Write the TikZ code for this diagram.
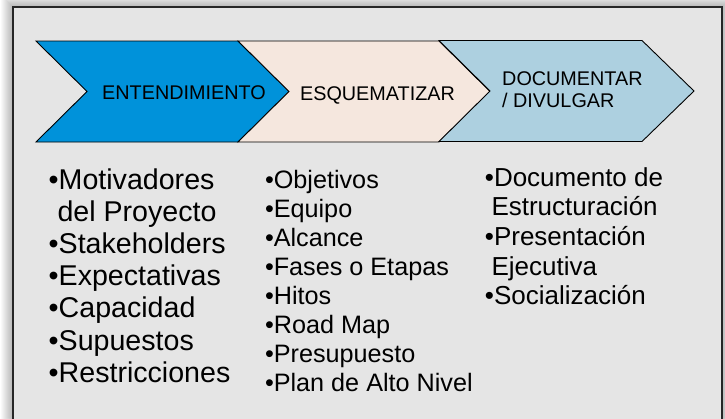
\documentclass[tikz,border=0pt]{standalone}
\usepackage{fontspec}
\setmainfont{Liberation Sans}
\definecolor{bgc}{RGB}{229,229,229}
\definecolor{frm}{RGB}{38,38,38}
\definecolor{cone}{RGB}{0,146,218}
\definecolor{ctwo}{RGB}{245,231,222}
\definecolor{cthree}{RGB}{173,208,224}
\begin{document}
\begin{tikzpicture}[x=1pt,y=-1pt,
  chev/.style={draw=black,line width=0.9pt,line join=miter},
  hdr/.style={font=\fontsize{19.8}{22.7}\selectfont,inner sep=0pt},
  lcol/.style={font=\fontsize{28.6}{32}\selectfont,inner sep=0pt,anchor=base west},
  mcol/.style={font=\fontsize{25.2}{29}\selectfont,inner sep=0pt,anchor=base west},
  rcol/.style={font=\fontsize{26}{29.75}\selectfont,inner sep=0pt,anchor=base west}]
\useasboundingbox (0,0) rectangle (725,418);
\clip (0,0) rectangle (725,418);
\fill[white] (0,0) rectangle (725,418);
% soft outer shadow
\foreach \i in {1,...,12}
  \fill[black,opacity=0.022] (13-\i,7-\i) rectangle (722+\i,440);
% frame
\draw[frm,line width=2pt,fill=bgc] (13,7) rectangle (722,440);
% chevrons
\draw[chev,fill=cone] (36,41) -- (238,41) -- (289,91.5) -- (238,142) -- (36,142) -- (87,91.5) -- cycle;
\draw[chev,fill=ctwo] (238,41) -- (439,41) -- (490,91.5) -- (439,142) -- (238,142) -- (289,91.5) -- cycle;
\draw[chev,fill=cthree] (439,40.5) -- (642,40.5) -- (694,91) -- (642,141.5) -- (439,141.5) -- (490,91) -- cycle;
% headers
\node[hdr,anchor=base] (h1) at (184,99.3) {ENTENDIMIENTO};
\node[hdr,anchor=base] (h2) at (377.5,100) {ESQUEMATIZAR};
\node[hdr,anchor=base west] (h3a) at (502,85) {DOCUMENTAR};
\node[hdr,anchor=base west] (h3b) at (502,107.7) {/ DIVULGAR};
% left column
\node[lcol] (l1) at (48.5,189.3) {•Motivadores};
\node[lcol] (l2) at (57.3,221.6) {del Proyecto};
\node[lcol] (l3) at (48.5,253.6) {•Stakeholders};
\node[lcol] (l4) at (48.5,285.9) {•Expectativas};
\node[lcol] (l5) at (48.5,317.9) {•Capacidad};
\node[lcol] (l6) at (48.5,350.1) {•Supuestos};
\node[lcol] (l7) at (48.5,382.4) {•Restricciones};
% middle column
\node[mcol] (m1) at (264.8,188.3) {•Objetivos};
\node[mcol] (m2) at (264.8,217.4) {•Equipo};
\node[mcol] (m3) at (264.8,246.4) {•Alcance};
\node[mcol] (m4) at (264.8,275.5) {•Fases o Etapas};
\node[mcol] (m5) at (264.8,304.5) {•Hitos};
\node[mcol] (m6) at (264.8,333.6) {•Road Map};
\node[mcol] (m7) at (264.8,362.7) {•Presupuesto};
\node[mcol] (m8) at (264.8,391.7) {•Plan de Alto Nivel};
% right column
\node[rcol] (r1) at (484.7,186) {•Documento de};
\node[rcol] (r2) at (491.3,215.7) {Estructuración};
\node[rcol] (r3) at (484.7,245.3) {•Presentación};
\node[rcol] (r4) at (491.3,275) {Ejecutiva};
\node[rcol] (r5) at (484.7,304.9) {•Socialización};
\end{tikzpicture}
\end{document}
